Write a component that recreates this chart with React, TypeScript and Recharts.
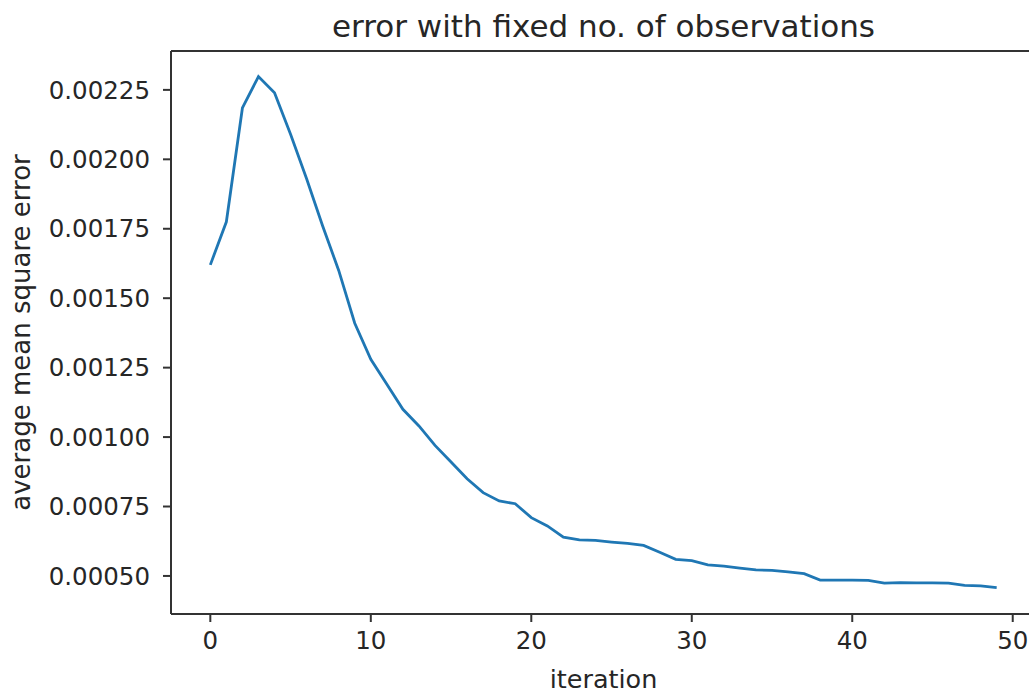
import { LineChart, Line, XAxis, YAxis, ReferenceLine } from "recharts";

const iterations = [
    0, 1, 2, 3, 4, 5, 6, 7, 8, 9,
    10, 11, 12, 13, 14, 15, 16, 17, 18, 19,
    20, 21, 22, 23, 24, 25, 26, 27, 28, 29,
    30, 31, 32, 33, 34, 35, 36, 37, 38, 39,
    40, 41, 42, 43, 44, 45, 46, 47, 48, 49,
];

const avgMse = [
    0.00162, 0.001775, 0.002185, 0.002298, 0.00224, 0.00209, 0.00193, 0.00176, 0.0016, 0.00141,
    0.00128, 0.00119, 0.0011, 0.00104, 0.00097, 0.00091, 0.00085, 0.0008, 0.00077, 0.00076,
    0.00071, 0.00068, 0.00064, 0.00063, 0.000628, 0.000622, 0.000617, 0.00061, 0.000585, 0.00056,
    0.000555, 0.00054, 0.000535, 0.000528, 0.000522, 0.00052, 0.000515, 0.000508, 0.000485, 0.000485,
    0.000485, 0.000484, 0.000474, 0.000476, 0.000475, 0.000475, 0.000474, 0.000466, 0.000464, 0.000458,
];

const xTicks = [0, 10, 20, 30, 40, 50];
const yTicks = [0.0005, 0.00075, 0.001, 0.00125, 0.0015, 0.00175, 0.002, 0.00225];

const title = "error with fixed no. of observations";
const xLabel = "iteration";
const yLabel = "average mean square error";

const data = iterations.map((it, i) => ({ it, mse: avgMse[i] }));

const xDomain: [number, number] = [-2.45, 51.45];
const yDomain: [number, number] = [0.000363, 0.00239];

const font = "DejaVu Sans";
const ink = "#262626";
const axisStroke = { stroke: "#333", strokeWidth: 2 };

export default function App() {
    return (
        <div style={{ position: "fixed", left: 0, top: 0, width: 1029, height: 695, overflow: "hidden", background: "#fff" }}>
            <div style={{
                position: "absolute", left: 171, width: 865, top: 8, textAlign: "center",
                fontFamily: font, fontSize: 31, color: ink, lineHeight: "36px",
            }}>
                {title}
            </div>
            <LineChart width={1040} height={695} data={data} margin={{ top: 51, right: 4, bottom: 0, left: 0 }}>
                <XAxis
                    xAxisId="main"
                    dataKey="it"
                    type="number"
                    domain={xDomain}
                    ticks={xTicks}
                    allowDataOverflow
                    height={81}
                    tickSize={8}
                    tickMargin={10}
                    axisLine={axisStroke}
                    tickLine={axisStroke}
                    tick={{ fontFamily: font, fontSize: 24.5, fill: ink }}
                    label={{ value: xLabel, position: "insideBottom", offset: 7, fontFamily: font, fontSize: 25.5, fill: ink }}
                />
                <YAxis
                    yAxisId="main"
                    type="number"
                    domain={yDomain}
                    ticks={yTicks}
                    allowDataOverflow
                    width={171}
                    tickSize={8}
                    tickMargin={13}
                    tickFormatter={(v: number) => v.toFixed(5)}
                    axisLine={axisStroke}
                    tickLine={axisStroke}
                    tick={{ fontFamily: font, fontSize: 24.5, fill: ink }}
                    label={{ value: yLabel, angle: -90, position: "insideLeft", offset: 21, style: { textAnchor: "middle" }, fontFamily: font, fontSize: 26, fill: ink }}
                />
                <ReferenceLine xAxisId="main" yAxisId="main" y={yDomain[1]} stroke="#333" strokeWidth={2} />
                <ReferenceLine xAxisId="main" yAxisId="main" x={xDomain[1]} stroke="#333" strokeWidth={2} />
                <Line
                    xAxisId="main"
                    yAxisId="main"
                    type="linear"
                    dataKey="mse"
                    stroke="#1f77b4"
                    strokeWidth={2.8}
                    dot={false}
                    isAnimationActive={false}
                />
            </LineChart>
        </div>
    );
}
